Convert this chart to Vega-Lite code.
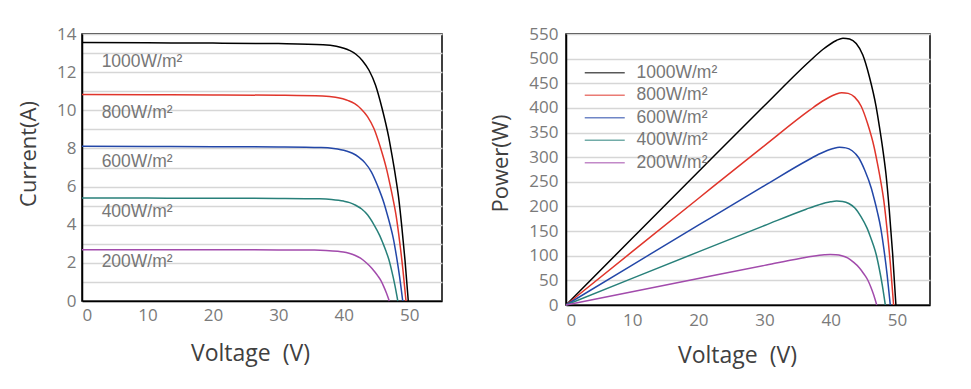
{
  "$schema": "https://vega.github.io/schema/vega-lite/v6.json",
  "autosize": {"type": "pad"},
  "padding": {"left": 16, "top": 24, "right": 41, "bottom": 20},
  "background": "white",
  "bounds": "flush",
  "spacing": 124,
  "resolve": {"scale": {"color": "independent"}, "legend": {"color": "independent"}},
  "datasets": {
    "curves": [
      {"g": "1000W/m²", "V": 0, "I": 13.55, "P": 0},
      {"g": "1000W/m²", "V": 10, "I": 13.536, "P": 135.4},
      {"g": "1000W/m²", "V": 20, "I": 13.523, "P": 270.5},
      {"g": "1000W/m²", "V": 30, "I": 13.496, "P": 404.9},
      {"g": "1000W/m²", "V": 36.85, "I": 13.442, "P": 495.3},
      {"g": "1000W/m²", "V": 38.85, "I": 13.36, "P": 519.0},
      {"g": "1000W/m²", "V": 40.85, "I": 13.144, "P": 536.9},
      {"g": "1000W/m²", "V": 41.85, "I": 12.94, "P": 541.5},
      {"g": "1000W/m²", "V": 42.85, "I": 12.602, "P": 540.0},
      {"g": "1000W/m²", "V": 43.85, "I": 12.1, "P": 530.6},
      {"g": "1000W/m²", "V": 44.85, "I": 11.314, "P": 507.4},
      {"g": "1000W/m²", "V": 45.85, "I": 10.095, "P": 462.8},
      {"g": "1000W/m²", "V": 46.85, "I": 8.604, "P": 403.1},
      {"g": "1000W/m²", "V": 47.35, "I": 7.656, "P": 362.5},
      {"g": "1000W/m²", "V": 47.85, "I": 6.64, "P": 317.7},
      {"g": "1000W/m²", "V": 48.35, "I": 5.488, "P": 265.3},
      {"g": "1000W/m²", "V": 48.85, "I": 3.93, "P": 192.0},
      {"g": "1000W/m²", "V": 49.35, "I": 2.127, "P": 105.0},
      {"g": "1000W/m²", "V": 49.85, "I": 0, "P": 0},
      {"g": "800W/m²", "V": 0, "I": 10.83, "P": 0},
      {"g": "800W/m²", "V": 10, "I": 10.819, "P": 108.2},
      {"g": "800W/m²", "V": 20, "I": 10.808, "P": 216.2},
      {"g": "800W/m²", "V": 30, "I": 10.787, "P": 323.6},
      {"g": "800W/m²", "V": 36.76, "I": 10.743, "P": 394.9},
      {"g": "800W/m²", "V": 38.72, "I": 10.678, "P": 413.5},
      {"g": "800W/m²", "V": 40.68, "I": 10.505, "P": 427.3},
      {"g": "800W/m²", "V": 41.66, "I": 10.343, "P": 430.9},
      {"g": "800W/m²", "V": 42.64, "I": 10.072, "P": 429.5},
      {"g": "800W/m²", "V": 43.62, "I": 9.671, "P": 421.9},
      {"g": "800W/m²", "V": 44.6, "I": 9.043, "P": 403.3},
      {"g": "800W/m²", "V": 45.58, "I": 8.068, "P": 367.7},
      {"g": "800W/m²", "V": 46.56, "I": 6.877, "P": 320.2},
      {"g": "800W/m²", "V": 47.05, "I": 6.119, "P": 287.9},
      {"g": "800W/m²", "V": 47.54, "I": 5.307, "P": 252.3},
      {"g": "800W/m²", "V": 48.03, "I": 4.386, "P": 210.7},
      {"g": "800W/m²", "V": 48.52, "I": 3.141, "P": 152.4},
      {"g": "800W/m²", "V": 49.01, "I": 1.7, "P": 83.3},
      {"g": "800W/m²", "V": 49.5, "I": 0, "P": 0},
      {"g": "600W/m²", "V": 0, "I": 8.11, "P": 0},
      {"g": "600W/m²", "V": 10, "I": 8.102, "P": 81.0},
      {"g": "600W/m²", "V": 20, "I": 8.094, "P": 161.9},
      {"g": "600W/m²", "V": 30, "I": 8.078, "P": 242.3},
      {"g": "600W/m²", "V": 36.52, "I": 8.045, "P": 293.8},
      {"g": "600W/m²", "V": 38.44, "I": 7.996, "P": 307.4},
      {"g": "600W/m²", "V": 40.36, "I": 7.867, "P": 317.5},
      {"g": "600W/m²", "V": 41.32, "I": 7.745, "P": 320.0},
      {"g": "600W/m²", "V": 42.28, "I": 7.542, "P": 318.9},
      {"g": "600W/m²", "V": 43.24, "I": 7.242, "P": 313.1},
      {"g": "600W/m²", "V": 44.2, "I": 6.772, "P": 299.3},
      {"g": "600W/m²", "V": 45.16, "I": 6.042, "P": 272.9},
      {"g": "600W/m²", "V": 46.12, "I": 5.15, "P": 237.5},
      {"g": "600W/m²", "V": 46.6, "I": 4.582, "P": 213.5},
      {"g": "600W/m²", "V": 47.08, "I": 3.974, "P": 187.1},
      {"g": "600W/m²", "V": 47.56, "I": 3.285, "P": 156.2},
      {"g": "600W/m²", "V": 48.04, "I": 2.352, "P": 113.0},
      {"g": "600W/m²", "V": 48.52, "I": 1.273, "P": 61.8},
      {"g": "600W/m²", "V": 49.0, "I": 0, "P": 0},
      {"g": "400W/m²", "V": 0, "I": 5.4, "P": 0},
      {"g": "400W/m²", "V": 10, "I": 5.395, "P": 54.0},
      {"g": "400W/m²", "V": 20, "I": 5.389, "P": 107.8},
      {"g": "400W/m²", "V": 30, "I": 5.378, "P": 161.3},
      {"g": "400W/m²", "V": 36.29, "I": 5.357, "P": 194.4},
      {"g": "400W/m²", "V": 38.13, "I": 5.324, "P": 203.0},
      {"g": "400W/m²", "V": 39.97, "I": 5.238, "P": 209.4},
      {"g": "400W/m²", "V": 40.89, "I": 5.157, "P": 210.9},
      {"g": "400W/m²", "V": 41.81, "I": 5.022, "P": 210.0},
      {"g": "400W/m²", "V": 42.73, "I": 4.822, "P": 206.0},
      {"g": "400W/m²", "V": 43.65, "I": 4.509, "P": 196.8},
      {"g": "400W/m²", "V": 44.57, "I": 4.023, "P": 179.3},
      {"g": "400W/m²", "V": 45.49, "I": 3.429, "P": 156.0},
      {"g": "400W/m²", "V": 45.95, "I": 3.051, "P": 140.2},
      {"g": "400W/m²", "V": 46.41, "I": 2.646, "P": 122.8},
      {"g": "400W/m²", "V": 46.87, "I": 2.187, "P": 102.5},
      {"g": "400W/m²", "V": 47.33, "I": 1.566, "P": 74.1},
      {"g": "400W/m²", "V": 47.79, "I": 0.848, "P": 40.5},
      {"g": "400W/m²", "V": 48.25, "I": 0, "P": 0},
      {"g": "200W/m²", "V": 0, "I": 2.69, "P": 0},
      {"g": "200W/m²", "V": 10, "I": 2.687, "P": 26.9},
      {"g": "200W/m²", "V": 20, "I": 2.685, "P": 53.7},
      {"g": "200W/m²", "V": 30, "I": 2.679, "P": 80.4},
      {"g": "200W/m²", "V": 35.51, "I": 2.668, "P": 94.7},
      {"g": "200W/m²", "V": 37.27, "I": 2.652, "P": 98.8},
      {"g": "200W/m²", "V": 39.03, "I": 2.609, "P": 101.8},
      {"g": "200W/m²", "V": 39.91, "I": 2.569, "P": 102.5},
      {"g": "200W/m²", "V": 40.79, "I": 2.502, "P": 102.1},
      {"g": "200W/m²", "V": 41.67, "I": 2.402, "P": 100.1},
      {"g": "200W/m²", "V": 42.55, "I": 2.246, "P": 95.6},
      {"g": "200W/m²", "V": 43.43, "I": 2.004, "P": 87.0},
      {"g": "200W/m²", "V": 44.31, "I": 1.708, "P": 75.7},
      {"g": "200W/m²", "V": 44.75, "I": 1.52, "P": 68.0},
      {"g": "200W/m²", "V": 45.19, "I": 1.318, "P": 59.6},
      {"g": "200W/m²", "V": 45.63, "I": 1.089, "P": 49.7},
      {"g": "200W/m²", "V": 46.07, "I": 0.78, "P": 35.9},
      {"g": "200W/m²", "V": 46.51, "I": 0.422, "P": 19.6},
      {"g": "200W/m²", "V": 46.95, "I": 0, "P": 0}
    ],
    "labels": [
      {"g": "1000W/m²", "V": 3, "I": 12.52},
      {"g": "800W/m²", "V": 3, "I": 9.88},
      {"g": "600W/m²", "V": 3, "I": 7.27},
      {"g": "400W/m²", "V": 3, "I": 4.65},
      {"g": "200W/m²", "V": 3, "I": 2.03}
    ]
  },
  "config": {
    "view": {"stroke": "#000", "strokeWidth": 1.5},
    "axis": {
      "domainColor": "#000",
      "domainWidth": 1.5,
      "ticks": false,
      "gridColor": "#d6d6d6",
      "gridWidth": 1.3,
      "labelColor": "#7a7a7a",
      "labelFont": "Open Sans",
      "labelFontSize": 17,
      "labelOverlap": false,
      "titleFont": "Open Sans",
      "titleFontSize": 22,
      "titleFontWeight": "normal",
      "titleColor": "#404040"
    }
  },
  "hconcat": [
    {
      "width": 360,
      "height": 267,
      "resolve": {"axis": {"y": "independent"}},
      "layer": [
        {
          "data": {"name": "curves"},
          "mark": {"type": "line", "interpolate": "monotone", "strokeWidth": 1.5},
          "encoding": {
            "x": {"field": "V", "type": "quantitative", "scale": {"domain": [0, 55], "nice": false},
              "axis": {"title": "Voltage\u00a0\u00a0(V)", "values": [0, 10, 20, 30, 40, 50], "grid": false, "labelPadding": 6,
                "titleFontSize": 23, "titleX": 168, "titleY": 52, "titleBaseline": "middle"}},
            "y": {"field": "I", "type": "quantitative", "scale": {"domain": [0, 14], "nice": false},
              "axis": {"orient": "left", "title": null, "values": [0, 1, 2, 3, 4, 5, 6, 7, 8, 9, 10, 11, 12, 13, 14],
                "grid": true, "labels": false, "domain": false, "ticks": false}},
            "color": {"field": "g", "type": "nominal",
              "scale": {"domain": ["1000W/m²", "800W/m²", "600W/m²", "400W/m²", "200W/m²"],
                "range": ["#000000", "#e0352b", "#2347a8", "#28807a", "#a24bac"]},
              "legend": null},
            "order": {"field": "V", "type": "quantitative"}
          }
        },
        {
          "data": {"name": "labels"},
          "mark": {"type": "text", "align": "left", "baseline": "middle", "font": "Liberation Sans", "fontSize": 17.5, "color": "#777777"},
          "encoding": {
            "x": {"field": "V", "type": "quantitative"},
            "y": {"field": "I", "type": "quantitative",
              "axis": {"orient": "left", "title": "Current(A)", "values": [0, 2, 4, 6, 8, 10, 12, 14], "grid": false,
                "labelPadding": 6, "labelOverlap": false,
                "titleX": -54, "titleY": 119.5, "titleBaseline": "middle"}},
            "text": {"field": "g", "type": "nominal"}
          }
        }
      ]
    },
    {
      "width": 364,
      "height": 271,
      "data": {"name": "curves"},
      "mark": {"type": "line", "interpolate": "monotone", "strokeWidth": 1.5},
      "encoding": {
        "x": {"field": "V", "type": "quantitative", "scale": {"domain": [0, 55], "nice": false},
          "axis": {"title": "Voltage\u00a0\u00a0(V)", "values": [0, 10, 20, 30, 40, 50], "grid": false, "labelPadding": 7,
            "titleFontSize": 23, "titleX": 171, "titleY": 50, "titleBaseline": "middle"}},
        "y": {"field": "P", "type": "quantitative", "scale": {"domain": [0, 550], "nice": false},
          "axis": {"title": "Power(W)", "values": [0, 50, 100, 150, 200, 250, 300, 350, 400, 450, 500, 550], "labelPadding": 8,
            "titleX": -66, "titleY": 129, "titleBaseline": "middle"}},
        "color": {"field": "g", "type": "nominal",
          "scale": {"domain": ["1000W/m²", "800W/m²", "600W/m²", "400W/m²", "200W/m²"],
            "range": ["#000000", "#e0352b", "#2347a8", "#28807a", "#a24bac"]},
          "legend": {"title": null, "orient": "none", "legendX": 30, "legendY": 30,
            "symbolType": "M-20,0H20", "symbolSize": 4, "symbolStrokeWidth": 1.5, "symbolOpacity": 0.65,
            "labelOffset": 23, "labelFont": "Liberation Sans", "labelFontSize": 17.5, "labelColor": "#777777",
            "rowPadding": 3.5, "padding": 0}},
        "order": {"field": "V", "type": "quantitative"}
      }
    }
  ]
}
